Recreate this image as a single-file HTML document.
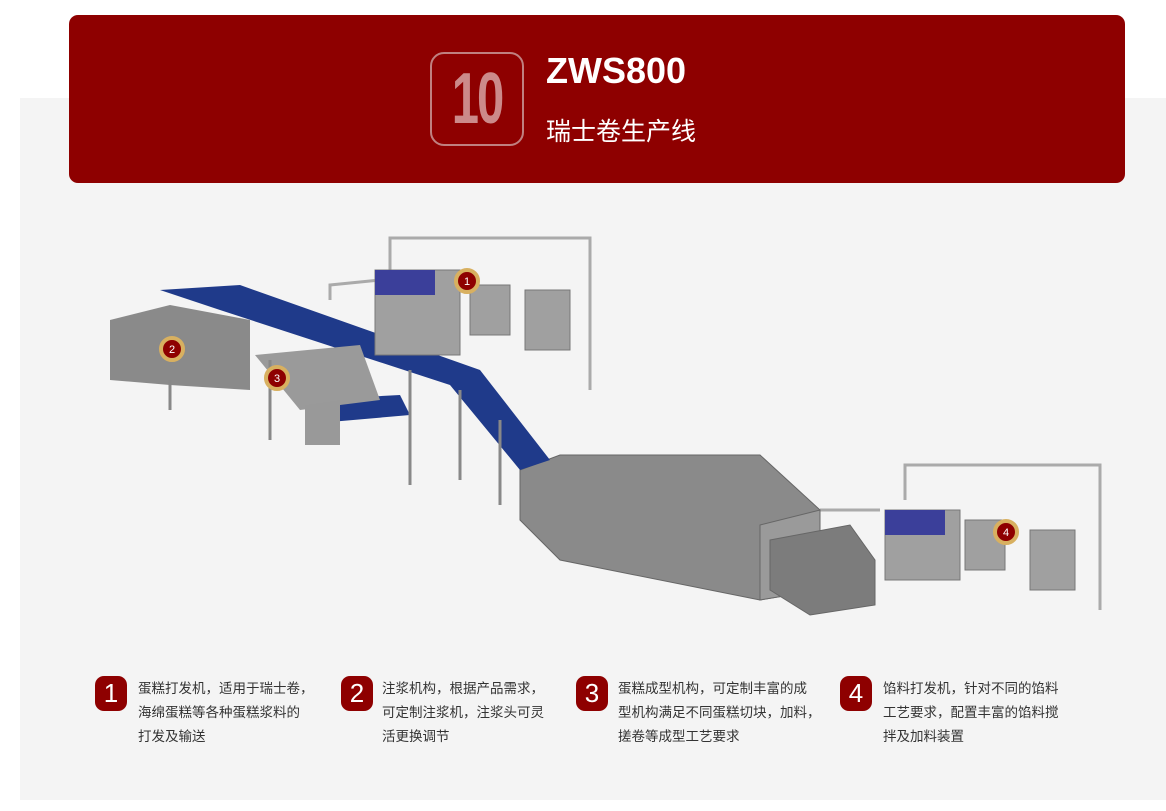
<!DOCTYPE html>
<html><head><meta charset="utf-8"><style>
body{margin:0;width:1166px;height:811px;background:#fff;position:relative;overflow:hidden;font-family:"Liberation Sans","Noto Sans CJK SC",sans-serif}
.panel{position:absolute;left:20px;top:98px;width:1146px;height:702px;background:#f4f4f4}
.hdr{position:absolute;left:69px;top:15px;width:1056px;height:168px;background:#8e0000;border-radius:9px}
.num{position:absolute;left:430px;top:52px;width:90px;height:90px;border:2px solid #c08080;border-radius:14px}
.num span{position:absolute;left:0;width:90px;top:-2px;color:#cc8a8a;font-weight:bold;font-size:72px;text-align:center;line-height:94px;transform:scaleX(0.68);letter-spacing:-3px}
.t1{position:absolute;left:546px;top:50px;color:#fff;font-weight:bold;font-size:36px}
.t2{position:absolute;left:546px;top:112px;color:#fff;font-size:25px}
.b{position:absolute;top:676px;width:32px;height:35px;background:#8e0000;border-radius:9px;color:#fff;font-size:26px;text-align:center;line-height:35px}
.d{position:absolute;top:677px;font-size:13.5px;line-height:24px;color:#333;white-space:nowrap}
</style></head><body>
<div class="panel"></div>
<div class="hdr"></div>
<div class="num"><span>10</span></div>
<div class="t1">ZWS800</div>
<div class="t2">瑞士卷生产线</div>
<svg style="position:absolute;left:0;top:0" width="1166" height="811">
<g fill="none" stroke="#aaa" stroke-width="3">
<path d="M390 270 V238 H590 V390"/><path d="M905 500 V465 H1100 V610"/>
<path d="M330 300 L330 285 L380 280"/><path d="M820 510 L880 510"/>
</g>
<g fill="#8a8a8a" stroke="#666">
<polygon points="520,470 560,455 760,455 820,510 820,590 760,600 560,560 520,520"/>
<polygon points="760,600 820,590 820,510 760,525" fill="#9a9a9a"/>
<polygon points="770,540 850,525 875,560 875,605 810,615 770,590" fill="#7c7c7c"/>
</g>
<polygon points="160,290 240,285 480,370 550,460 520,470 450,385 220,310" fill="#1f3a8a"/>
<polygon points="310,400 400,395 410,415 330,422" fill="#1f3a8a"/>
<polygon points="110,320 170,305 250,320 250,390 170,385 110,380" fill="#8a8a8a"/>
<polygon points="255,355 360,345 380,400 300,410" fill="#9a9a9a"/>
<polygon points="305,405 340,400 340,445 305,445" fill="#999"/>
<g stroke="#888" stroke-width="3"><path d="M410 370 V485 M460 390 V480 M500 420 V505 M270 360 V440 M170 380 V410"/></g>
<g fill="#a0a0a0" stroke="#777">
<rect x="375" y="270" width="85" height="85"/><rect x="470" y="285" width="40" height="50"/><rect x="525" y="290" width="45" height="60"/>
<rect x="885" y="510" width="75" height="70"/><rect x="965" y="520" width="40" height="50"/><rect x="1030" y="530" width="45" height="60"/>
</g>
<rect x="375" y="270" width="60" height="25" fill="#3b3f9a"/><rect x="885" y="510" width="60" height="25" fill="#3b3f9a"/>
<g fill="#8e0000" stroke="#d8b060" stroke-width="4">
<circle cx="467" cy="281" r="11"/><circle cx="172" cy="349" r="11"/><circle cx="277" cy="378" r="11"/><circle cx="1006" cy="532" r="11"/>
</g>
<g fill="#fff" font-size="11" text-anchor="middle" font-family="Liberation Sans">
<text x="467" y="285">1</text><text x="172" y="353">2</text><text x="277" y="382">3</text><text x="1006" y="536">4</text>
</g>
</svg>
<div class="b" style="left:95px">1</div><div class="d" style="left:138px">蛋糕打发机，适用于瑞士卷，<br>海绵蛋糕等各种蛋糕浆料的<br>打发及输送</div>
<div class="b" style="left:341px">2</div><div class="d" style="left:382px">注浆机构，根据产品需求，<br>可定制注浆机，注浆头可灵<br>活更换调节</div>
<div class="b" style="left:576px">3</div><div class="d" style="left:618px">蛋糕成型机构，可定制丰富的成<br>型机构满足不同蛋糕切块，加料，<br>搓卷等成型工艺要求</div>
<div class="b" style="left:840px">4</div><div class="d" style="left:883px">馅料打发机，针对不同的馅料<br>工艺要求，配置丰富的馅料搅<br>拌及加料装置</div>
</body></html>
